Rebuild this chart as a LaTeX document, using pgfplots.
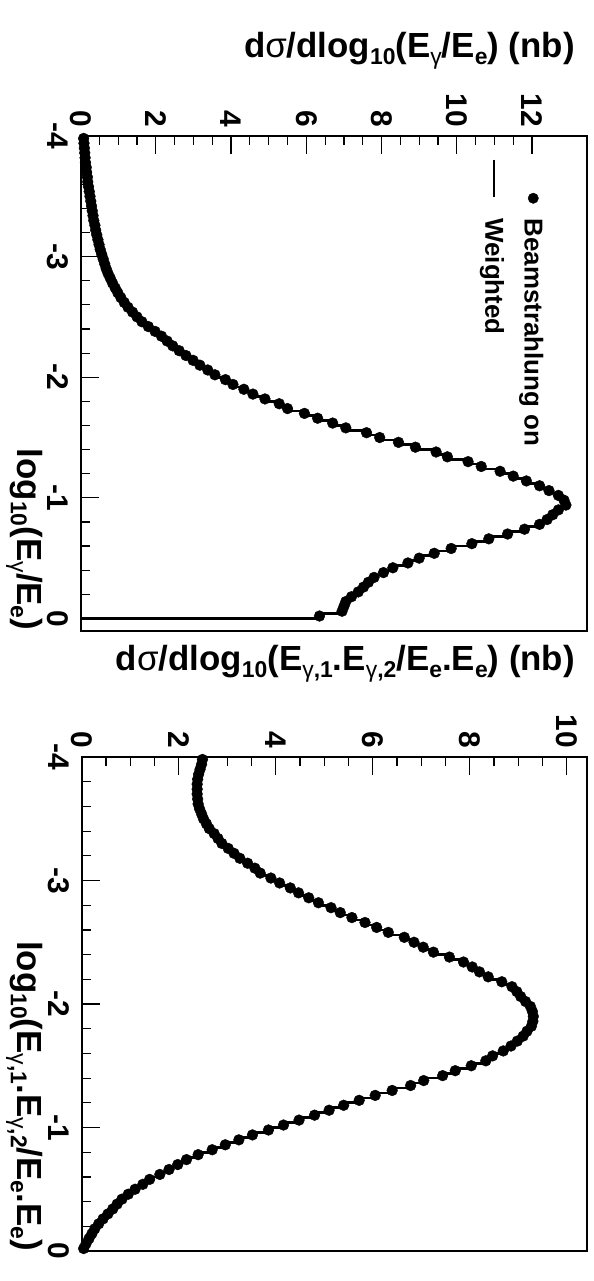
\documentclass[border=0pt]{standalone}
\usepackage{graphicx}
\usepackage{fontspec}
\setmainfont{Liberation Sans}
\usepackage{pgfplots}
\pgfplotsset{compat=1.18}
\usepackage{pgfplotstable}

% ROOT-like subscripts and thin greek letters
\newcommand\sub[1]{\raisebox{-7bp}{\fontsize{23}{23}\selectfont #1}}
\newcommand\gr[1]{{\mdseries #1}}
\newcommand\lfont{\fontsize{35}{35}\selectfont\bfseries}

% single photon spectrum, 0.04 wide bins
\pgfplotstableread{
x y
-3.98 0.08
-3.94 0.09
-3.90 0.10
-3.86 0.11
-3.82 0.12
-3.78 0.13
-3.74 0.15
-3.70 0.16
-3.66 0.18
-3.62 0.19
-3.58 0.21
-3.54 0.23
-3.50 0.25
-3.46 0.27
-3.42 0.29
-3.38 0.31
-3.34 0.33
-3.30 0.35
-3.26 0.38
-3.22 0.40
-3.18 0.43
-3.14 0.46
-3.10 0.49
-3.06 0.52
-3.02 0.56
-2.98 0.60
-2.94 0.64
-2.90 0.68
-2.86 0.73
-2.82 0.79
-2.78 0.85
-2.74 0.92
-2.70 0.99
-2.66 1.07
-2.62 1.16
-2.58 1.26
-2.54 1.38
-2.50 1.50
-2.46 1.63
-2.42 1.80
-2.38 1.98
-2.34 2.15
-2.30 2.30
-2.26 2.45
-2.22 2.62
-2.18 2.80
-2.14 2.99
-2.10 3.17
-2.06 3.38
-2.02 3.57
-1.98 3.85
-1.94 4.05
-1.90 4.34
-1.86 4.58
-1.82 4.90
-1.78 5.28
-1.74 5.50
-1.70 5.95
-1.66 6.30
-1.62 6.70
-1.58 7.05
-1.54 7.60
-1.50 7.95
-1.46 8.45
-1.42 8.90
-1.38 9.45
-1.34 9.75
-1.30 10.30
-1.26 10.65
-1.22 11.15
-1.18 11.50
-1.14 11.85
-1.10 12.20
-1.06 12.45
-1.02 12.70
-0.98 12.85
-0.94 12.90
-0.90 12.70
-0.86 12.55
-0.82 12.40
-0.78 12.20
-0.74 11.80
-0.70 11.35
-0.66 10.85
-0.62 10.40
-0.58 9.85
-0.54 9.40
-0.50 9.00
-0.46 8.70
-0.42 8.30
-0.38 8.05
-0.34 7.80
-0.30 7.65
-0.26 7.52
-0.22 7.38
-0.18 7.20
-0.14 7.05
-0.10 7.00
-0.06 6.95
-0.02 6.35
}\single

% two photon product spectrum
\pgfplotstableread{
x y
-3.98 2.49
-3.94 2.47
-3.90 2.44
-3.86 2.41
-3.82 2.39
-3.78 2.38
-3.74 2.38
-3.70 2.38
-3.66 2.39
-3.62 2.40
-3.58 2.43
-3.54 2.47
-3.50 2.51
-3.46 2.57
-3.42 2.63
-3.38 2.73
-3.34 2.81
-3.30 2.89
-3.26 3.02
-3.22 3.14
-3.18 3.26
-3.14 3.42
-3.10 3.57
-3.06 3.68
-3.02 3.90
-2.98 4.08
-2.94 4.30
-2.90 4.47
-2.86 4.68
-2.82 4.88
-2.78 5.14
-2.74 5.33
-2.70 5.57
-2.66 5.84
-2.62 6.08
-2.58 6.32
-2.54 6.65
-2.50 6.85
-2.46 7.04
-2.42 7.25
-2.38 7.58
-2.34 7.87
-2.30 8.05
-2.26 8.20
-2.22 8.38
-2.18 8.66
-2.14 8.87
-2.10 8.97
-2.06 9.05
-2.02 9.15
-1.98 9.25
-1.94 9.29
-1.90 9.31
-1.86 9.30
-1.82 9.27
-1.78 9.18
-1.74 9.10
-1.70 8.98
-1.66 8.85
-1.62 8.69
-1.58 8.47
-1.54 8.33
-1.50 8.03
-1.46 7.70
-1.42 7.44
-1.38 7.05
-1.34 6.78
-1.30 6.40
-1.26 6.05
-1.22 5.72
-1.18 5.40
-1.14 5.10
-1.10 4.80
-1.06 4.48
-1.02 4.16
-0.98 3.85
-0.94 3.52
-0.90 3.24
-0.86 2.96
-0.82 2.69
-0.78 2.40
-0.74 2.16
-0.70 1.98
-0.66 1.80
-0.62 1.61
-0.58 1.40
-0.54 1.26
-0.50 1.10
-0.46 0.96
-0.42 0.83
-0.38 0.73
-0.34 0.64
-0.30 0.54
-0.26 0.44
-0.22 0.35
-0.18 0.27
-0.14 0.21
-0.10 0.15
-0.06 0.09
-0.02 0.04
}\double

\pgfplotsset{
  rootpad/.style={
    scale only axis,
    anchor=south west,
    tick pos=left,
    tick align=inside,
    major tick length=18bp,
    minor tick length=9bp,
    every tick/.style={black,line width=1.2bp},
    axis line style={line width=2bp},
    minor x tick num=4,
    minor y tick num=3,
    ymin=0,
    xtick={-4,-3,-2,-1,0},
    xticklabels={-4,-3,-2,-1,0},
    tick label style={font=\fontsize{30}{30}\selectfont\bfseries},
    xticklabel style={anchor=base,yshift=-33bp,inner sep=0pt},
    yticklabel style={anchor=east,xshift=-9bp,inner sep=0pt},
  },
  pts/.style={only marks,mark=*,mark size=5.4bp,black},
  hst/.style={const plot mark mid,no marks,black,line width=2.7bp},
}

\begin{document}
\rotatebox{-90}{%
\begin{tikzpicture}
\path[use as bounding box] (0,0) rectangle (1281bp,594bp);

\begin{axis}[rootpad,
  at={(136bp,80.6bp)}, width=494.5bp, height=506bp,
  xmin=-4, xmax=0.1, ymax=13.45,
  ytick={0,2,...,12}, yticklabels={0,2,4,6,8,10,12},
  xlabel={log\sub{10}(E\sub{\gr{γ}}/E\sub{e})},
  ylabel={d\gr{σ}/dlog\sub{10}(E\sub{\gr{γ}}/E\sub{e}) (nb)},
  every axis x label/.style={at={(rel axis cs:1,0)},anchor=base east,yshift=-62.6bp,
    font=\lfont,inner sep=0pt},
  every axis y label/.style={at={(axis description cs:-0.158,0.977)},rotate=90,
    anchor=base east,font=\lfont,inner sep=0pt},
  legend cell align=left,
  legend style={draw=none,fill=none,at={(rel axis cs:0.0445,0.915)},anchor=north west,
    font=\fontsize{26}{26}\selectfont\bfseries,row sep=19bp,column sep=0pt,
    inner xsep=0pt,inner ysep=0pt,nodes={inner sep=0pt,text depth=0.15em}},
]
\addplot[pts,legend image code/.code={\path[draw=none,fill=none] (0bp,-8bp) rectangle (59bp,8bp);
  \fill[black] (38.7bp,0bp) circle (5.2bp);}] table {\single};
\addlegendentry{Beamstrahlung on}
\addplot[hst,legend image code/.code={\path[draw=none,fill=none] (0bp,-8bp) rectangle (59bp,8bp);
  \draw[black,line width=2.7bp] (0bp,0bp) -- (37bp,0bp);}] table {\single};
\addlegendentry{Weighted}
\addplot[black,line width=2.7bp,forget plot] coordinates {(-0.02,6.35) (0,6.35) (0,0) (0.1,0)};
\end{axis}

\begin{axis}[rootpad,
  at={(757bp,81.7bp)}, width=494bp, height=505bp,
  xmin=-4, xmax=0, ymax=10.41,
  ytick={0,2,...,10}, yticklabels={0,2,4,6,8,10},
  xlabel={log\sub{10}(E\sub{\gr{γ},1}.E\sub{\gr{γ},2}/E\sub{e}.E\sub{e})},
  ylabel={d\gr{σ}/dlog\sub{10}(E\sub{\gr{γ},1}.E\sub{\gr{γ},2}/E\sub{e}.E\sub{e}) (nb)},
  every axis x label/.style={at={(rel axis cs:1,0)},anchor=base east,yshift=-63.7bp,
    font=\lfont,inner sep=0pt},
  every axis y label/.style={at={(axis description cs:-0.176,0.977)},rotate=90,
    anchor=base east,font=\lfont,inner sep=0pt},
]
\addplot[pts] table {\double};
\addplot[hst] table {\double};
\end{axis}
\end{tikzpicture}}
\end{document}
